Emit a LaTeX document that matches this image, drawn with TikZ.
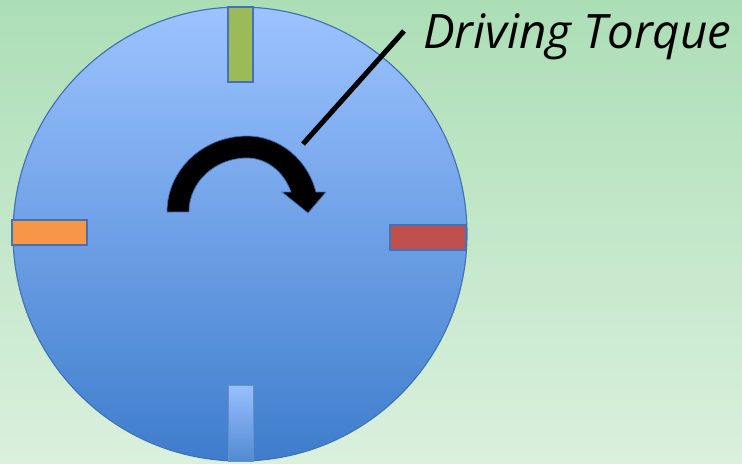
\documentclass[tikz,border=0pt]{standalone}
\usepackage{fontspec}
\setmainfont{Carlito}
\newfontfamily\labelfont{Open Sans}
\definecolor{bgtop}{RGB}{172,222,182}
\definecolor{bgbot}{RGB}{218,240,221}
\definecolor{disctop}{RGB}{157,195,255}
\definecolor{discbot}{RGB}{62,125,204}
\definecolor{rim}{RGB}{68,114,180}
\definecolor{bladegreen}{RGB}{155,187,89}
\definecolor{bladeorange}{RGB}{247,150,70}
\definecolor{bladered}{RGB}{192,80,77}
\tikzset{
  blade/.style={draw=rim, line width=1.7pt},
  torquearrow/.style={fill=black, draw=rim, line width=0.6pt, line join=miter},
  torqueline/.style={draw=black, line width=4.3pt}
}
\begin{document}
\begin{tikzpicture}[x=0.03cm, y=-0.03cm, >=stealth]
			% Фон
			\shade[top color=bgtop, bottom color=bgbot] (0,0) rectangle (742,463);
			\useasboundingbox (0,0) rectangle (742,463);

			% Диск
			\shade[top color=disctop, bottom color=discbot, draw=rim, line width=1pt]
				(240,234) circle[radius=227];

			% Лопатки
			\draw[blade, fill=bladegreen] (228,7) rectangle (253,82);
			\draw[blade, fill=bladeorange] (12,220) rectangle (87,245);
			\draw[blade, fill=bladered] (390,225) rectangle (466,250);
			\shade[top color=disctop!105, bottom color=discbot!90!white, draw=rim!80, line width=0.8pt]
				(228,385) rectangle (253,461);

			% Стрелка момента
			\draw[torquearrow] (167,212)
				arc[start angle=180, end angle=270, x radius=80, y radius=76]
				arc[start angle=270, end angle=344.75, x radius=71.5, y radius=76]
				-- (326,192) -- (308,213) -- (282,192) -- (291,192)
				arc[start angle=338.3, end angle=270, x radius=47.4, y radius=54]
				arc[start angle=270, end angle=180, x radius=58, y radius=54]
				-- cycle;

			% Подпись
			\node[anchor=base west, inner sep=0pt, font=\labelfont\fontsize{40.5}{48}\selectfont\itshape]
				(torque) at (423,48) {Driving Torque};
			\coordinate (spoke) at (303,144);
			\coordinate (lead) at (404,31);
			\draw[torqueline] (spoke) -- (lead);
		\end{tikzpicture}
\end{document}
